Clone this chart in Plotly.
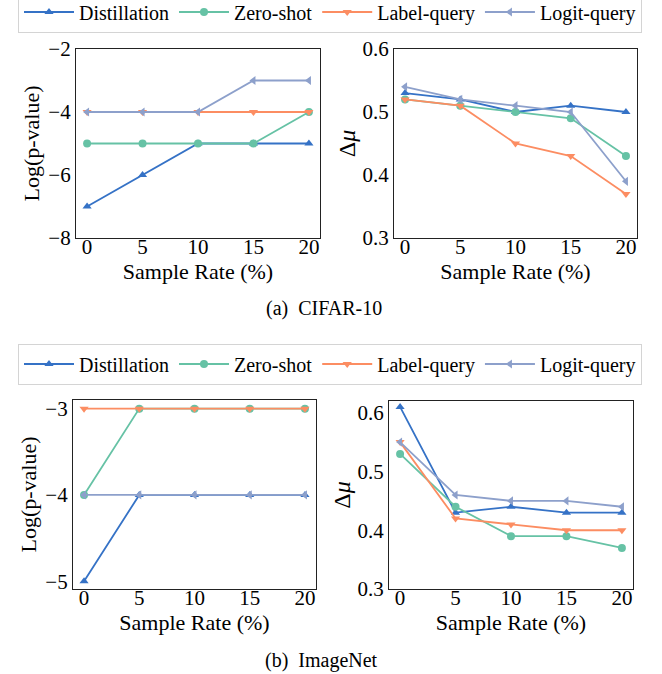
import plotly.graph_objects as go

W, H = 662, 674

sample_rate = [0, 5, 10, 15, 20]
methods = ["Distillation", "Zero-shot", "Label-query", "Logit-query"]

# CIFAR-10
cifar_pval = {
    "Distillation": [-7, -6, -5, -5, -5],
    "Zero-shot": [-5, -5, -5, -5, -4],
    "Label-query": [-4, -4, -4, -4, -4],
    "Logit-query": [-4, -4, -4, -3, -3],
}
cifar_dmu = {
    "Distillation": [0.53, 0.52, 0.50, 0.51, 0.50],
    "Zero-shot": [0.52, 0.51, 0.50, 0.49, 0.43],
    "Label-query": [0.52, 0.51, 0.45, 0.43, 0.37],
    "Logit-query": [0.54, 0.52, 0.51, 0.50, 0.39],
}
# ImageNet
imnet_pval = {
    "Distillation": [-5, -4, -4, -4, -4],
    "Zero-shot": [-4, -3, -3, -3, -3],
    "Label-query": [-3, -3, -3, -3, -3],
    "Logit-query": [-4, -4, -4, -4, -4],
}
imnet_dmu = {
    "Distillation": [0.61, 0.43, 0.44, 0.43, 0.43],
    "Zero-shot": [0.53, 0.44, 0.39, 0.39, 0.37],
    "Label-query": [0.55, 0.42, 0.41, 0.40, 0.40],
    "Logit-query": [0.55, 0.46, 0.45, 0.45, 0.44],
}

colors = {
    "Distillation": "#3572C6",
    "Zero-shot": "#66C2A5",
    "Label-query": "#FC8D62",
    "Logit-query": "#8DA0CB",
}
symbols = {
    "Distillation": "triangle-up",
    "Zero-shot": "circle",
    "Label-query": "triangle-down",
    "Logit-query": "triangle-left",
}

FONT = "Times New Roman"
TICK_FS = 21
TITLE_FS = 22
LEG_FS = 20
CAP_FS = 20

def px_x(p):
    return p / W

def px_y(p):
    return 1 - p / H

fig = go.Figure()

panels = [
    (cifar_pval, "x", "y", "legend"),
    (cifar_dmu, "x2", "y2", None),
    (imnet_pval, "x3", "y3", "legend2"),
    (imnet_dmu, "x4", "y4", None),
]

for data, xa, ya, leg in panels:
    for m in methods:
        fig.add_trace(go.Scatter(
            x=sample_rate, y=data[m], mode="lines+markers", name=m,
            xaxis=xa, yaxis=ya,
            line=dict(color=colors[m], width=1.8),
            marker=dict(color=colors[m], symbol=symbols[m], size=8),
            showlegend=leg is not None,
            legend=leg if leg else "legend",
        ))

def axis_common():
    return dict(
        showline=True, mirror=True, linecolor="#222222", linewidth=1.2,
        ticks="", showgrid=False,
        zeroline=False, automargin=False,
        tickfont=dict(family=FONT, size=TICK_FS, color="black"),
    )

boxes = {
    "1": (76, 320, 49, 238),
    "2": (394, 637, 49, 238),
    "3": (73, 316, 400, 589),
    "4": (389, 633, 401, 589),
}
yranges = {
    "1": [-8, -2],
    "2": [0.3, 0.6],
    "3": [-5.09, -2.9],
    "4": [0.3, 0.62],
}
ytickvals = {
    "1": [-8, -6, -4, -2],
    "2": [0.3, 0.4, 0.5, 0.6],
    "3": [-5, -4, -3],
    "4": [0.3, 0.4, 0.5, 0.6],
}
ytitles = {
    "1": "Log(p-value)",
    "2": "Δ<i>μ</i>",
    "3": "Log(p-value)",
    "4": "Δ<i>μ</i>",
}

layout = {}
for k, (l, r, t, b) in boxes.items():
    xname = "xaxis" if k == "1" else f"xaxis{k}"
    yname = "yaxis" if k == "1" else f"yaxis{k}"
    anchor_x = "y" if k == "1" else f"y{k}"
    anchor_y = "x" if k == "1" else f"x{k}"
    is_mu = k in ("2", "4")
    xa = axis_common()
    xa.update(domain=[px_x(l), px_x(r)], range=[-1, 21], tickvals=sample_rate,
              anchor=anchor_x, ticklabelstandoff=-10,
              title=dict(text="Sample Rate (%)", font=dict(family=FONT, size=TITLE_FS, color="black"), standoff=0))
    ya = axis_common()
    ya.update(domain=[px_y(b), px_y(t)], range=yranges[k], tickvals=ytickvals[k],
              anchor=anchor_y,
              title=dict(text=ytitles[k],
                         font=dict(family=FONT, size=24 if is_mu else TITLE_FS, color="black"),
                         standoff=0 if is_mu else 2))
    if is_mu:
        ya["tickformat"] = ".1f"
    layout[xname] = xa
    layout[yname] = ya

legend_common = dict(
    orientation="h", xanchor="center", x=0.4985, yanchor="middle",
    font=dict(family=FONT, size=LEG_FS, color="black"),
    bgcolor="rgba(255,255,255,0.9)", bordercolor="#d4d4d4", borderwidth=1,
    itemwidth=50, tracegroupgap=0,
)
leg1 = dict(legend_common); leg1["y"] = px_y(12)
leg2 = dict(legend_common); leg2["y"] = px_y(364)

fig.update_layout(
    template="none",
    font=dict(family=FONT, size=TICK_FS, color="black"),
    width=W, height=H, margin=dict(l=0, r=0, t=0, b=0, autoexpand=False),
    paper_bgcolor="white", plot_bgcolor="white",
    legend=leg1, legend2=leg2,
    **layout,
)

fig.add_annotation(text="(a)\u00a0 CIFAR-10", xref="paper", yref="paper",
                   x=px_x(324), y=px_y(308), xanchor="center", yanchor="middle",
                   showarrow=False,
                   font=dict(family=FONT, size=CAP_FS, color="black"))
fig.add_annotation(text="(b)\u00a0 ImageNet", xref="paper", yref="paper",
                   x=px_x(321), y=px_y(660), xanchor="center", yanchor="middle",
                   showarrow=False,
                   font=dict(family=FONT, size=CAP_FS, color="black"))

fig.write_html("out.html", config={"displayModeBar": False},
               post_script="document.body.style.margin='0';")
